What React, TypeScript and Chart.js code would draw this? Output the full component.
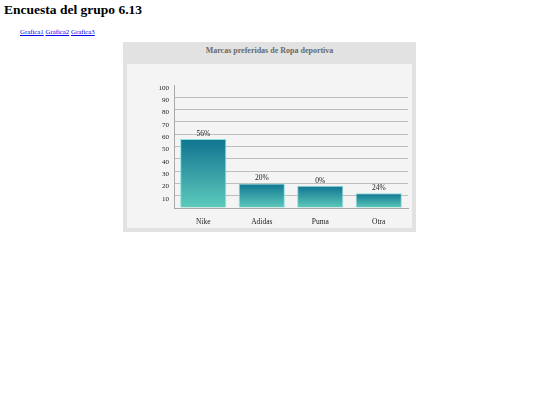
import { useEffect, useRef } from "react"
import { Chart, registerables } from "chart.js"

Chart.register(...registerables)

const marcas = ["Nike", "Adidas", "Puma", "Otra"]
const valores = [56, 20, 18, 12]
const etiquetas = ["56%", "20%", "0%", "24%"]
const enlaces = ["Grafica1", "Grafica2", "Grafica3"]

const SERIF = "'Liberation Serif', 'Times New Roman', serif"

const etiquetasPlugin = {
  id: "etiquetas",
  afterDatasetsDraw(chart: Chart) {
    const ctx = chart.ctx
    const meta = chart.getDatasetMeta(0)
    ctx.save()
    ctx.font = "7.5px " + SERIF
    ctx.fillStyle = "#222"
    ctx.textAlign = "center"
    ctx.textBaseline = "bottom"
    meta.data.forEach((bar: any, i: number) => {
      ctx.fillText(etiquetas[i], bar.x, bar.y - 1.5)
    })
    ctx.restore()
  },
}

function Grafica() {
  const chartRef = useRef<HTMLCanvasElement>(null)
  const chartInstance = useRef<Chart | null>(null)

  useEffect(() => {
    if (!chartRef.current) return
    const ctx = chartRef.current.getContext("2d")
    if (!ctx) return
    if (chartInstance.current) chartInstance.current.destroy()

    chartInstance.current = new Chart(ctx, {
      type: "bar",
      data: {
        labels: marcas,
        datasets: [
          {
            data: valores,
            backgroundColor: (c: any) => {
              const chart = c.chart
              if (!chart.chartArea || !c.parsed) return "#1f8c9c"
              const y = chart.scales.y
              const top = y.getPixelForValue(c.parsed.y)
              const bottom = y.getPixelForValue(0)
              const g = chart.ctx.createLinearGradient(0, top, 0, bottom)
              g.addColorStop(0, "#0f7490")
              g.addColorStop(1, "#5ecbbc")
              return g
            },
            borderColor: "#8fdede",
            borderWidth: 1,
            categoryPercentage: 1,
            barPercentage: 0.79,
          },
        ],
      },
      options: {
        responsive: false,
        animation: false,
        layout: { padding: { top: 21, right: 4, left: 0, bottom: 0 } },
        plugins: {
          legend: { display: false },
          title: { display: false },
          tooltip: { enabled: false },
        },
        scales: {
          x: {
            grid: { display: false },
            border: { display: true, color: "#a8a8a8", width: 1 },
            ticks: {
              color: "#222",
              font: { family: SERIF, size: 7.5 },
              padding: 2,
            },
            afterFit: (scale: any) => {
              scale.height = 20
            },
          },
          y: {
            min: 0,
            max: 100,
            border: { display: true, color: "#a8a8a8", width: 1 },
            grid: {
              color: (c: any) =>
                c.tick && (c.tick.value === 0 || c.tick.value === 100) ? "rgba(0,0,0,0)" : "#bdbdbd",
              drawTicks: false,
            },
            ticks: {
              stepSize: 10,
              color: "#222",
              padding: 5,
              labelOffset: 3,
              font: { family: SERIF, size: 7 },
              callback: (v: any) => (v === 0 ? "" : String(v)),
            },
            afterFit: (scale: any) => {
              scale.width = 47
            },
          },
        },
      },
      plugins: [etiquetasPlugin],
    })

    return () => {
      if (chartInstance.current) {
        chartInstance.current.destroy()
        chartInstance.current = null
      }
    }
  }, [])

  return <canvas ref={chartRef} width={285} height={164} />
}

export default function App() {
  return (
    <div style={{ fontFamily: SERIF }}>
      <h1
        style={{
          position: "absolute",
          left: 4,
          top: 1,
          margin: 0,
          fontSize: 13.5,
          fontWeight: "bold",
          lineHeight: "18px",
          color: "#000",
        }}
      >
        Encuesta del grupo 6.13
      </h1>
      <div style={{ position: "absolute", left: 20, top: 27, fontSize: 6.8, lineHeight: "9px" }}>
        {enlaces.map((e, i) => (
          <span key={e}>
            <a href="#" style={{ color: "#0000ee" }}>
              {e}
            </a>
            {i < enlaces.length - 1 ? " " : ""}
          </span>
        ))}
      </div>
      <div
        style={{
          position: "absolute",
          left: 123,
          top: 42,
          width: 293,
          height: 190,
          background: "#e2e2e2",
        }}
      >
        <div
          style={{
            position: "absolute",
            left: 0,
            top: 4,
            width: 293,
            textAlign: "center",
            fontSize: 8,
            fontWeight: "bold",
            color: "#6a6a6a",
            lineHeight: "10px",
          }}
        >
          Marcas preferidas de Ropa deportiva
        </div>
        <div
          style={{
            position: "absolute",
            left: 4,
            top: 22,
            width: 285,
            height: 164,
            background: "#f4f4f4",
          }}
        >
          <Grafica />
        </div>
      </div>
    </div>
  )
}
